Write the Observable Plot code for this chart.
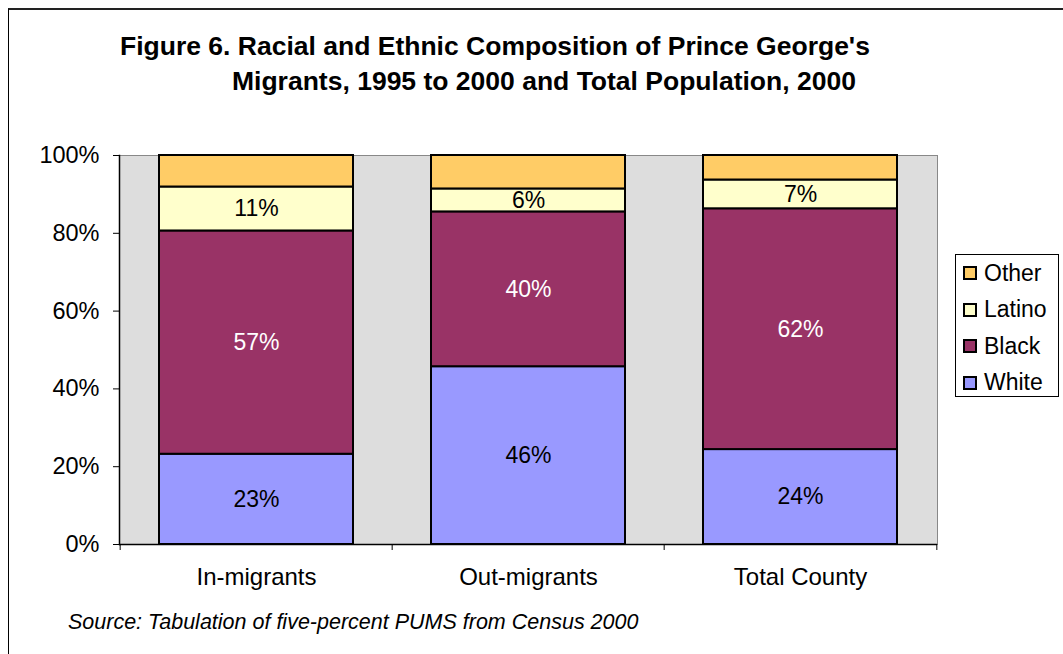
<!DOCTYPE html>
<html>
<head>
<meta charset="utf-8">
<script src="https://cdn.jsdelivr.net/npm/d3@7"></script>
<script src="https://cdn.jsdelivr.net/npm/@observablehq/plot@0.6"></script>
<style>
  html, body { margin: 0; padding: 0; background: #fff; }
  #wrap { position: relative; width: 1063px; height: 654px; overflow: hidden; font-family: "Liberation Sans", Arial, sans-serif; }
  #border { position: absolute; left: 8px; top: 8px; right: -4px; bottom: -4px; border-left: 1.5px solid #000; border-top: 2px solid #222; }
  .title { position: absolute; font-weight: bold; font-size: 26.5px; white-space: nowrap; color: #000; }
  #source { position: absolute; left: 68px; top: 610px; font-style: italic; font-size: 21.5px; white-space: nowrap; }
  #legend { position: absolute; left: 955px; top: 254px; width: 104px; height: 143px; border: 1.5px solid #000; box-sizing: border-box; background: #fff; }
  .lrow { position: absolute; left: 7px; height: 26px; display: flex; align-items: center; font-size: 23px; }
  .sw { width: 10px; height: 10px; border: 2px solid #000; margin-right: 7px; }
  #chart { position: absolute; left: 0; top: 0; }
</style>
</head>
<body>
<div id="wrap">
  <div id="border"></div>
  <div id="chart"></div>
  <div class="title" id="t1" style="left:120px; top:31px;">Figure 6. Racial and Ethnic Composition of Prince George's</div>
  <div class="title" id="t2" style="left:232px; top:66px;">Migrants, 1995 to 2000 and Total Population, 2000</div>
  <div id="source">Source: Tabulation of five-percent PUMS from Census 2000</div>
  <div id="legend"></div>
</div>
<script>
// ---- data ----
const categories = ["In-migrants", "Out-migrants", "Total County"];
const groups = ["White", "Black", "Latino", "Other"];          // bottom to top
const colors = ["#9999FF", "#993366", "#FFFFCC", "#FFCC66"];
const white  = [23.2, 45.7, 24.4];
const black  = [57.4, 39.8, 61.9];
const latino = [11.3, 5.9, 7.4];
const other  = [8.1, 8.6, 6.3];
const yTicks = [0, 20, 40, 60, 80, 100];
const labelledGroups = ["White", "Black", "Latino"];

const series = {White: white, Black: black, Latino: latino, Other: other};
const rows = [];
groups.forEach(g => categories.forEach((c, i) => rows.push({cat: c, group: g, value: series[g][i]})));

const W = 1063, H = 654;
const mL = 119, mR = 126, mT = 155, mB = 110;
const step = (W - mL - mR) / categories.length;

const font = "Liberation Sans, Arial, sans-serif";

const chart = Plot.plot({
  width: W, height: H,
  marginLeft: mL, marginRight: mR, marginTop: mT, marginBottom: mB,
  style: {fontFamily: font, fontSize: "23px", color: "#000", background: "transparent", overflow: "visible"},
  x: {domain: categories, paddingInner: 0.285, paddingOuter: 0.1425, label: null},
  y: {domain: [0, 100], label: null},
  color: {domain: groups, range: colors},
  marks: [
    Plot.frame({fill: "#DDDDDD", stroke: null}),
    Plot.frame({anchor: "top", stroke: "#888"}),
    Plot.frame({anchor: "right", stroke: "#888"}),
    Plot.barY(rows, {x: "cat", y: "value", fill: "group", order: groups, stroke: "#000", strokeWidth: 2}),
    Plot.text(rows, Plot.stackY({
      x: "cat", y: "value", z: "group", order: groups,
      text: d => labelledGroups.includes(d.group) && d.group !== "Black" ? Math.round(d.value) + "%" : null,
      fill: "#000", fontSize: 23
    })),
    Plot.text(rows, Plot.stackY({
      x: "cat", y: "value", z: "group", order: groups,
      text: d => d.group === "Black" ? Math.round(d.value) + "%" : null,
      fill: "#fff", fontSize: 23
    })),
    Plot.frame({anchor: "left", stroke: "#000", strokeWidth: 1.5}),
    Plot.ruleY([0], {stroke: "#000", strokeWidth: 1.5}),
    Plot.axisY({ticks: yTicks, tickFormat: d => d + "%", tickSize: 6, tickPadding: 14, label: null, fontSize: 23.5}),
    Plot.axisX({tickSize: 0, tickPadding: 23, label: null, fontSize: 24}),
    Plot.axisX({ticks: categories, tickSize: 6, text: null, dx: -step / 2, label: null}),
    Plot.axisX({ticks: [categories[categories.length - 1]], tickSize: 6, text: null, dx: step / 2, label: null})
  ]
});
document.getElementById("chart").appendChild(chart);

// legend (top to bottom: reverse of stack order)
const legend = document.getElementById("legend");
[...groups].reverse().forEach((g, i) => {
  const row = document.createElement("div");
  row.className = "lrow";
  row.style.top = (5 + i * 36.5) + "px";
  const sw = document.createElement("div");
  sw.className = "sw";
  sw.style.background = colors[groups.indexOf(g)];
  const tx = document.createElement("span");
  tx.textContent = g;
  row.appendChild(sw); row.appendChild(tx);
  legend.appendChild(row);
});
</script>
</body>
</html>
